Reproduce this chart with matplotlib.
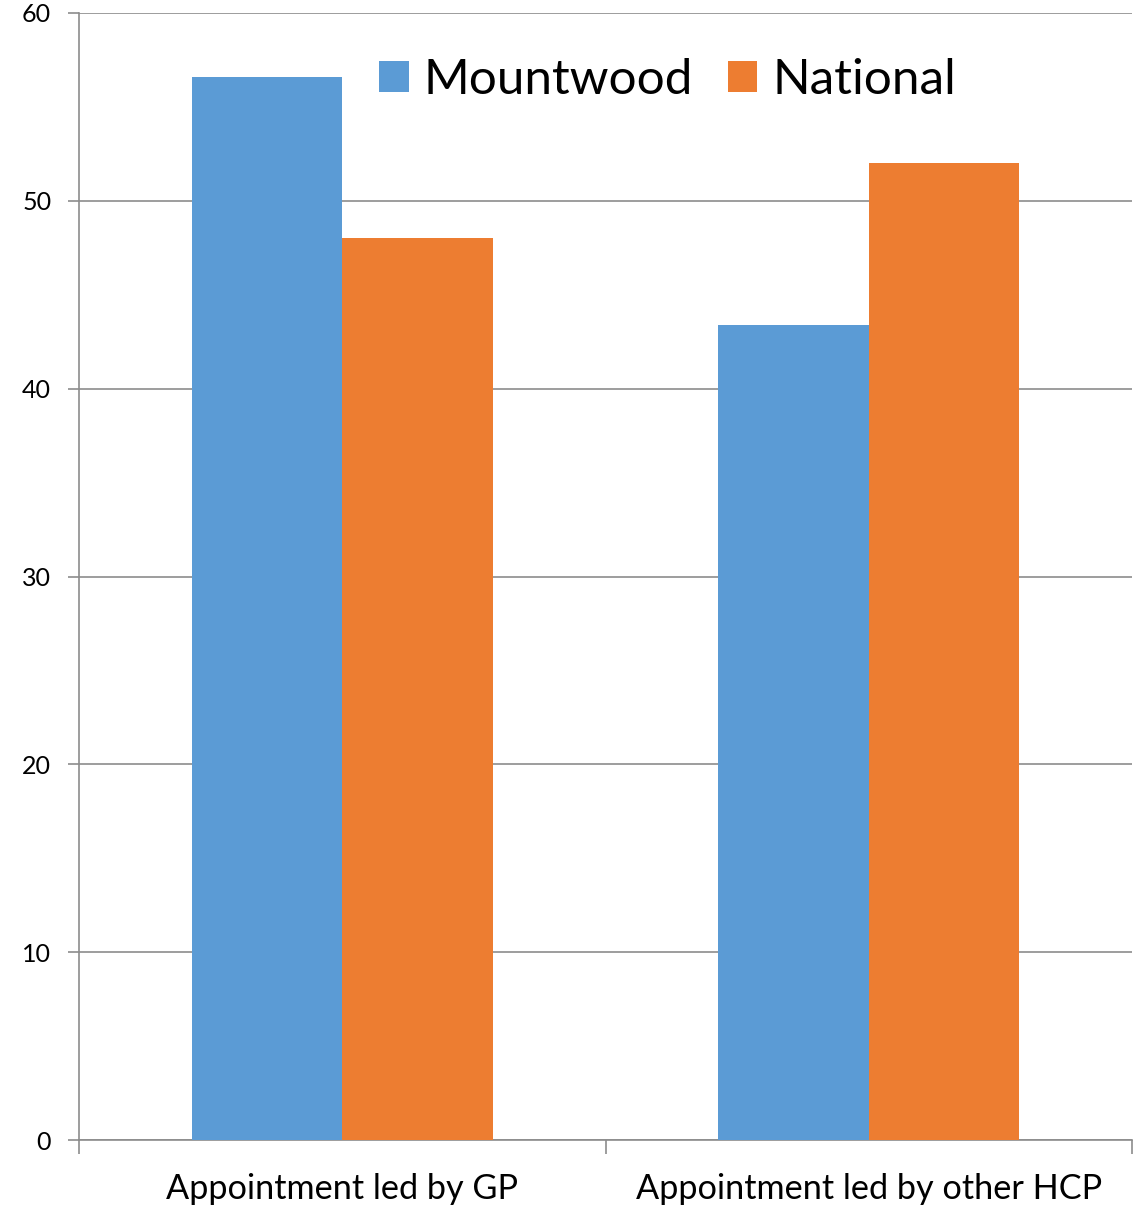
import matplotlib
matplotlib.use("Agg")
import matplotlib.pyplot as plt
import numpy as np

categories = ["Appointment led by GP", "Appointment led by other HCP"]
series_names = ["Mountwood", "National"]
mountwood = [56.6, 43.4]
national = [48.0, 52.0]
yticks = [0, 10, 20, 30, 40, 50, 60]

colors = ["#5B9BD5", "#ED7D31"]
grid_c = "#8C8C8C"

plt.rcParams['font.family'] = ['Lato', 'DejaVu Sans']

fig = plt.figure(figsize=(11.45, 12.06), dpi=100)
ax = fig.add_axes([79/1145, 66/1206, 1053/1145, 1127/1206])

x = np.arange(len(categories))
w = 150.5/526.5
ax.bar(x - w/2, mountwood, width=w, color=colors[0], label=series_names[0], zorder=3)
ax.bar(x + w/2, national, width=w, color=colors[1], label=series_names[1], zorder=3)

ax.set_xlim(-0.5, len(categories) - 0.5)
ax.set_ylim(0, 60)
ax.set_yticks(yticks)
ax.set_yticklabels([str(v) for v in yticks], fontsize=18)
ax.yaxis.grid(True, color=grid_c, linewidth=1.2, zorder=0)
ax.set_axisbelow(True)
ax.tick_params(axis='y', length=8, width=1.2, color=grid_c, pad=12)

ax.set_xticks(x)
ax.set_xticklabels(categories, fontsize=24.7)
ax.tick_params(axis='x', which='major', length=0, pad=24)
ax.set_xticks(np.arange(-0.5, len(categories)), minor=True)
ax.tick_params(axis='x', which='minor', length=10, width=1.2, color=grid_c)

for s in ['top', 'right']:
    ax.spines[s].set_visible(False)
for s in ['left', 'bottom']:
    ax.spines[s].set_color(grid_c)
    ax.spines[s].set_linewidth(1.2)

leg = ax.legend(loc='center', bbox_to_anchor=(0.559, 0.9405), ncol=2, frameon=False,
                fontsize=35.6, handlelength=0.6, handleheight=0.6,
                handletextpad=0.3, columnspacing=0.7, borderpad=0)

fig.savefig("out.png", dpi=100)
